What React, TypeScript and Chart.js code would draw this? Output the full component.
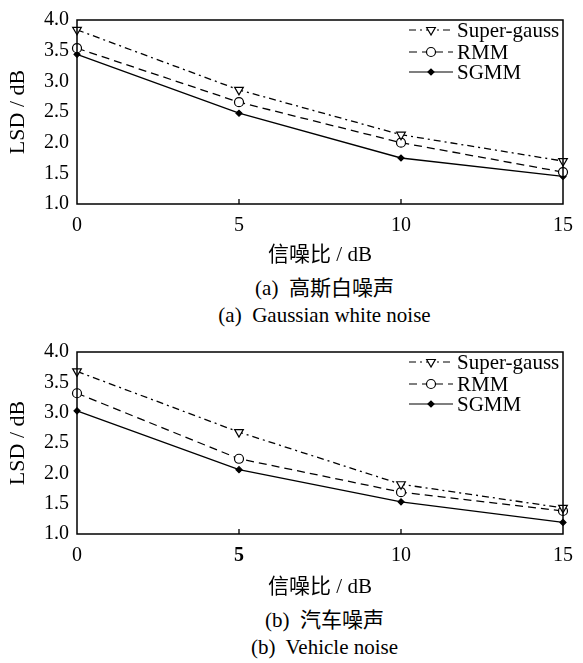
import React, { useEffect, useRef } from "react";
import { Chart, registerables } from "chart.js";
import { drawPoint } from "chart.js/helpers";

Chart.register(...registerables);

// ---- data ----
const snrValues = [0, 5, 10, 15];
const seriesNames = ["Super-gauss", "RMM", "SGMM"];
const gaussSuperGauss = [3.84, 2.86, 2.13, 1.7];
const gaussRMM = [3.54, 2.66, 2.0, 1.52];
const gaussSGMM = [3.44, 2.48, 1.75, 1.45];
const vehicleSuperGauss = [3.68, 2.68, 1.82, 1.43];
const vehicleRMM = [3.32, 2.24, 1.69, 1.38];
const vehicleSGMM = [3.03, 2.06, 1.53, 1.19];
const yMin = 1.0;
const yMax = 4.0;
const yStep = 0.5;
const xTitle = "信噪比 / dB";
const yTitle = "LSD / dB";
const captionsA = ["(a)  高斯白噪声", "(a)  Gaussian white noise"];
const captionsB = ["(b)  汽车噪声", "(b)  Vehicle noise"];

const FONT = '"Liberation Serif", "Noto Sans CJK SC", serif';

const seriesStyles = [
  { borderDash: [7, 4, 2, 4], pointStyle: "triangle", rotation: 180, radius: 5, fill: "#ffffff" },
  { borderDash: [8, 5], pointStyle: "circle", rotation: 0, radius: 4.5, fill: "#ffffff" },
  { borderDash: [], pointStyle: "rectRot", rotation: 0, radius: 3, fill: "#000000" },
];

const legendRows = [10, 32, 52];

const framePlugin = {
  id: "frameLegend",
  afterDraw(chart: any) {
    const { ctx, chartArea } = chart;
    const { left, right, top, bottom } = chartArea;
    ctx.save();
    // inner ticks on x axis
    const xs = chart.scales.x;
    ctx.strokeStyle = "#000";
    ctx.lineWidth = 1.3;
    ctx.setLineDash([]);
    xs.ticks.forEach((t: any) => {
      const px = xs.getPixelForValue(t.value);
      if (px > left + 2 && px < right - 2) {
        ctx.beginPath();
        ctx.moveTo(px, bottom);
        ctx.lineTo(px, bottom - 5);
        ctx.stroke();
      }
    });
    // frame
    ctx.lineWidth = 1.5;
    ctx.strokeRect(left, top, right - left, bottom - top);
    // legend
    const x1 = right - 154;
    const x2 = right - 110;
    const tx = right - 106;
    chart.data.datasets.forEach((ds: any, i: number) => {
      const y = top + legendRows[i];
      const st = seriesStyles[i];
      ctx.strokeStyle = "#000";
      ctx.lineWidth = 1.2;
      ctx.setLineDash(ds.borderDash || []);
      ctx.beginPath();
      ctx.moveTo(x1, y);
      ctx.lineTo(x2, y);
      ctx.stroke();
      ctx.setLineDash([]);
      ctx.fillStyle = st.fill;
      ctx.strokeStyle = "#000";
      ctx.lineWidth = 1.2;
      drawPoint(ctx, { pointStyle: st.pointStyle, rotation: st.rotation, radius: st.radius, borderWidth: 1.2 }, (x1 + x2) / 2, y);
      ctx.fillStyle = "#000";
      ctx.font = `21px ${FONT}`;
      ctx.textAlign = "left";
      ctx.textBaseline = "middle";
      ctx.fillText(ds.label, tx, y + 1);
    });
    ctx.restore();
  },
};

function LsdChart(props: { series: number[][]; boldFive: boolean; plotBottom: number; height: number }) {
  const ref = useRef<HTMLCanvasElement | null>(null);
  useEffect(() => {
    if (!ref.current) return;
    const datasets = props.series.map((vals, i) => ({
      label: seriesNames[i],
      data: snrValues.map((x, j) => ({ x, y: vals[j] })),
      borderColor: "#000",
      borderWidth: 1.3,
      borderDash: seriesStyles[i].borderDash,
      pointStyle: seriesStyles[i].pointStyle as any,
      rotation: seriesStyles[i].rotation,
      pointRadius: seriesStyles[i].radius,
      pointBorderWidth: 1.2,
      pointBorderColor: "#000",
      pointBackgroundColor: seriesStyles[i].fill,
      tension: 0,
      fill: false,
      clip: false as any,
    }));
    const xHeight = props.height - props.plotBottom;
    const chart = new Chart(ref.current, {
      type: "line",
      data: { datasets },
      plugins: [framePlugin],
      options: {
        animation: false,
        responsive: false,
        maintainAspectRatio: false,
        layout: { padding: { top: 16, left: 0, right: 11, bottom: 0 } },
        plugins: { legend: { display: false }, tooltip: { enabled: false } },
        scales: {
          x: {
            type: "linear",
            min: 0,
            max: 15,
            afterBuildTicks: (s: any) => {
              s.ticks = snrValues.map((v) => ({ value: v }));
            },
            afterFit: (s: any) => {
              s.height = xHeight;
            },
            grid: { display: false, drawTicks: false },
            border: { display: false },
            ticks: {
              padding: 10,
              color: "#000",
              maxRotation: 0,
              font: (c: any) => ({
                family: FONT,
                size: 20,
                weight: props.boldFive && c.tick && c.tick.value === 5 ? "bold" : "normal",
              }),
            },
            title: {
              display: true,
              text: xTitle,
              color: "#000",
              font: { family: FONT, size: 21 },
              padding: { top: 0, bottom: 2 },
            },
          },
          y: {
            type: "linear",
            min: yMin,
            max: yMax,
            afterFit: (s: any) => {
              s.width = 77;
            },
            grid: { display: false, drawTicks: false },
            border: { display: false },
            ticks: {
              stepSize: yStep,
              padding: 8,
              color: "#000",
              font: { family: FONT, size: 20 },
              callback: (v: any) => Number(v).toFixed(1),
            },
            title: {
              display: true,
              text: yTitle,
              color: "#000",
              font: { family: FONT, size: 22 },
              padding: { top: 5, bottom: 0 },
            },
          },
        },
      } as any,
    });
    return () => chart.destroy();
  }, []);
  return <canvas ref={ref} width={583} height={props.height} style={{ display: "block", width: 583, height: props.height }} />;
}

function Caption(props: { text: string; centerY: number }) {
  return (
    <div
      style={{
        position: "absolute",
        left: 77,
        width: 495,
        top: props.centerY - 13,
        height: 26,
        lineHeight: "26px",
        textAlign: "center",
        fontFamily: FONT,
        fontSize: 21,
        color: "#000",
        whiteSpace: "pre",
      }}
    >
      {props.text}
    </div>
  );
}

export default function App() {
  useEffect(() => {
    document.body.style.margin = "0";
    document.body.style.background = "#fff";
  }, []);
  return (
    <div style={{ position: "relative", width: 583, height: 663, background: "#fff", overflow: "hidden" }}>
      <div style={{ position: "absolute", left: 0, top: 0 }}>
        <LsdChart series={[gaussSuperGauss, gaussRMM, gaussSGMM]} boldFive={false} plotBottom={204} height={270} />
      </div>
      <Caption text={captionsA[0]} centerY={288} />
      <Caption text={captionsA[1]} centerY={315} />
      <div style={{ position: "absolute", left: 0, top: 332 }}>
        <LsdChart series={[vehicleSuperGauss, vehicleRMM, vehicleSGMM]} boldFive={true} plotBottom={202} height={270} />
      </div>
      <Caption text={captionsB[0]} centerY={620} />
      <Caption text={captionsB[1]} centerY={647} />
    </div>
  );
}
